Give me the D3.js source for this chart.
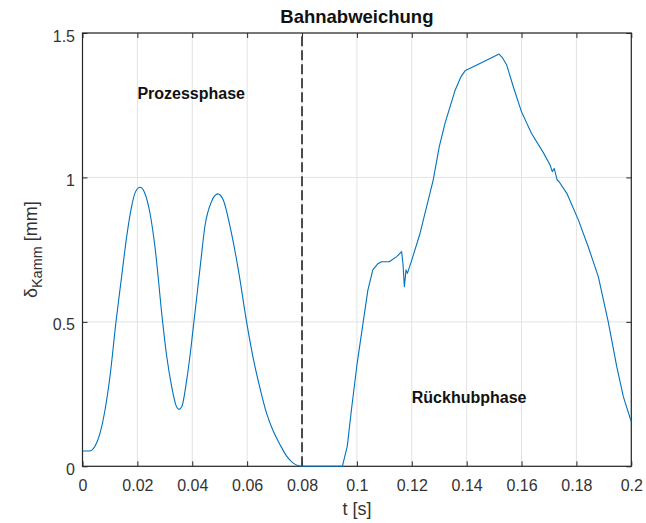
<!DOCTYPE html>
<html>
<head>
<meta charset="utf-8">
<script src="https://cdn.jsdelivr.net/npm/d3@7"></script>
<style>
  html, body { margin: 0; padding: 0; background: #fff; }
  svg { display: block; font-family: "Liberation Sans", Arial, sans-serif; }
</style>
</head>
<body>
<svg id="chart" width="646" height="523"></svg>
<script>
// Path deviation of the comb over one cycle (time in s, deviation in mm)
const timeS = [
  0, 0.0025, 0.0034, 0.0046, 0.0064, 0.0082, 0.0100, 0.0122, 0.0143, 0.0161,
  0.0179, 0.0193, 0.0210, 0.0226, 0.0246, 0.0264, 0.0292, 0.0307, 0.0325, 0.0341,
  0.0352, 0.0362, 0.0380, 0.0394, 0.0406, 0.0418, 0.0430, 0.0446, 0.0471, 0.0493,
  0.0513, 0.0538, 0.0568, 0.0598, 0.0623, 0.0647, 0.0671, 0.0695, 0.0720, 0.0744,
  0.0768, 0.0787, 0.0800, 0.0947,
  0.0965, 0.0980, 0.1000, 0.1023, 0.1040, 0.1058, 0.1075, 0.1090, 0.1118, 0.1145,
  0.1163, 0.1168, 0.1173, 0.1179, 0.1184, 0.1200, 0.1230, 0.1278, 0.1300, 0.1321,
  0.1358, 0.1380, 0.1394, 0.1450, 0.1518, 0.1530, 0.1546, 0.1570, 0.1600, 0.1636,
  0.1680, 0.1704, 0.1712, 0.1719, 0.1730, 0.1737, 0.1765, 0.1807, 0.1843, 0.1880,
  0.1916, 0.1947, 0.1971, 0.2000
];
const deviationMm = [
  0.053, 0.053, 0.056, 0.070, 0.115, 0.195, 0.310, 0.500, 0.660, 0.795,
  0.900, 0.950, 0.966, 0.948, 0.876, 0.760, 0.500, 0.380, 0.276, 0.210,
  0.197, 0.207, 0.300, 0.400, 0.500, 0.600, 0.700, 0.830, 0.918, 0.943,
  0.922, 0.829, 0.680, 0.500, 0.370, 0.270, 0.183, 0.122, 0.075, 0.035,
  0.011, 0.002, 0.000, 0.000,
  0.070, 0.195, 0.350, 0.500, 0.610, 0.680, 0.700, 0.708, 0.708, 0.726,
  0.743, 0.700, 0.622, 0.680, 0.668, 0.714, 0.806, 0.991, 1.106, 1.187,
  1.302, 1.350, 1.369, 1.395, 1.427, 1.415, 1.389, 1.314, 1.227, 1.153,
  1.085, 1.043, 1.020, 1.031, 0.991, 0.985, 0.945, 0.853, 0.760, 0.656,
  0.500, 0.345, 0.241, 0.154
];

const xTicks = [0, 0.02, 0.04, 0.06, 0.08, 0.1, 0.12, 0.14, 0.16, 0.18, 0.2];
const xTickLabels = ["0", "0.02", "0.04", "0.06", "0.08", "0.1", "0.12", "0.14", "0.16", "0.18", "0.2"];
const yTicks = [0, 0.5, 1, 1.5];
const yTickLabels = ["0", "0.5", "1", "1.5"];
const phaseBoundary = 0.08;

const svg = d3.select("#chart");
const plotLeft = 82.5, plotRight = 631.3, plotTop = 33, plotBottom = 466.3;

const x = d3.scaleLinear().domain([0, 0.2]).range([plotLeft, plotRight]);
const y = d3.scaleLinear().domain([0, 1.5]).range([plotBottom, plotTop]);

const axisColor = "#262626";
const labelColor = "#333";

// grid
const grid = svg.append("g").attr("stroke", "#e3e3e3").attr("stroke-width", 1);
grid.selectAll("line.vx").data(xTicks).join("line")
  .attr("x1", d => x(d)).attr("x2", d => x(d))
  .attr("y1", plotTop).attr("y2", plotBottom);
grid.selectAll("line.hy").data(yTicks).join("line")
  .attr("x1", plotLeft).attr("x2", plotRight)
  .attr("y1", d => y(d)).attr("y2", d => y(d));

// axes with inward ticks on all four sides
function styleAxis(g) {
  g.select(".domain").remove();
  g.selectAll(".tick line").attr("stroke", axisColor).attr("stroke-width", 1);
  g.selectAll(".tick text").attr("fill", labelColor)
    .style("font-family", "'Liberation Sans', Arial, sans-serif")
    .style("font-size", "16px");
}

svg.append("g").attr("transform", `translate(0,${plotBottom})`)
  .call(d3.axisBottom(x).tickValues(xTicks).tickFormat((d, i) => xTickLabels[i])
    .tickSizeInner(-5).tickSizeOuter(0).tickPadding(13.3))
  .call(styleAxis);
svg.append("g").attr("transform", `translate(0,${plotTop})`)
  .call(d3.axisTop(x).tickValues(xTicks).tickFormat("")
    .tickSizeInner(-5).tickSizeOuter(0))
  .call(styleAxis);
const yAxis = svg.append("g").attr("transform", `translate(${plotLeft},0)`)
  .call(d3.axisLeft(y).tickValues(yTicks).tickFormat((d, i) => yTickLabels[i])
    .tickSizeInner(-5).tickSizeOuter(0).tickPadding(7.5))
  .call(styleAxis);
yAxis.selectAll(".tick text").attr("dy", "0.5em");
svg.append("g").attr("transform", `translate(${plotRight},0)`)
  .call(d3.axisRight(y).tickValues(yTicks).tickFormat("")
    .tickSizeInner(-5).tickSizeOuter(0))
  .call(styleAxis);

// box
svg.append("rect")
  .attr("x", plotLeft).attr("y", plotTop)
  .attr("width", plotRight - plotLeft).attr("height", plotBottom - plotTop)
  .attr("fill", "none").attr("stroke", axisColor).attr("stroke-width", 1.2);

// phase boundary
svg.append("line")
  .attr("x1", x(phaseBoundary)).attr("x2", x(phaseBoundary))
  .attr("y1", y(0)).attr("y2", y(1.5))
  .attr("stroke", "#3a3a3a").attr("stroke-width", 1.8)
  .attr("stroke-dasharray", "10,4");

// deviation curve: smooth process phase, piecewise-linear return phase
const points = timeS.map((t, i) => [t, deviationMm[i]]);
const processPts = points.filter(d => d[0] <= phaseBoundary);
const returnPts = points.filter(d => d[0] >= phaseBoundary);
const lineSmooth = d3.line().x(d => x(d[0])).y(d => y(d[1])).curve(d3.curveMonotoneX);
const lineLinear = d3.line().x(d => x(d[0])).y(d => y(d[1])).curve(d3.curveLinear);
const curveG = svg.append("g")
  .attr("fill", "none")
  .attr("stroke", "#0072BD")
  .attr("stroke-width", 1.1)
  .attr("stroke-linejoin", "round");
curveG.append("path").attr("d", lineSmooth(processPts));
curveG.append("path").attr("d", lineLinear(returnPts));

// phase annotations
svg.append("text")
  .attr("x", x(0.02)).attr("y", y(1.271))
  .attr("font-size", 16).attr("font-weight", "bold").attr("fill", "#111")
  .text("Prozessphase");
svg.append("text")
  .attr("x", x(0.12)).attr("y", y(0.22))
  .attr("font-size", 16).attr("font-weight", "bold").attr("fill", "#111")
  .text("Rückhubphase");

// title
svg.append("text")
  .attr("x", (plotLeft + plotRight) / 2).attr("y", 23.3)
  .attr("text-anchor", "middle")
  .attr("font-size", 18.5).attr("font-weight", "bold").attr("fill", "#111")
  .text("Bahnabweichung");

// x label
svg.append("text")
  .attr("x", (plotLeft + plotRight) / 2).attr("y", 515)
  .attr("text-anchor", "middle")
  .attr("font-size", 18).attr("fill", labelColor)
  .text("t [s]");

// y label with subscript
const yl = svg.append("text")
  .attr("transform", `translate(37,${(plotTop + plotBottom) / 2}) rotate(-90)`)
  .attr("text-anchor", "middle")
  .attr("font-size", 18).attr("fill", labelColor);
yl.append("tspan").text("δ");
yl.append("tspan").attr("font-size", 14.5).attr("dy", 5).text("Kamm");
yl.append("tspan").attr("dy", -5).text(" [mm]");
</script>
</body>
</html>
